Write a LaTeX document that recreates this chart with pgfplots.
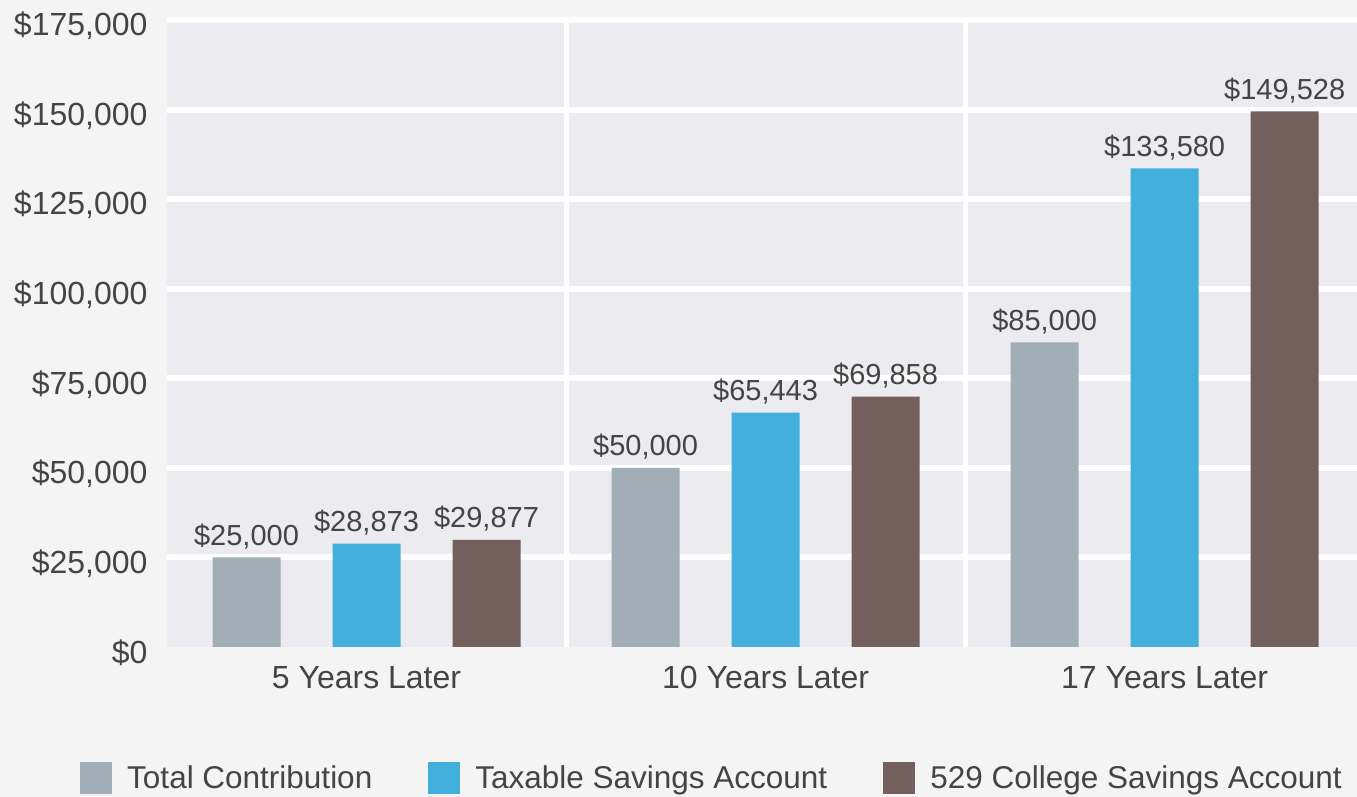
\documentclass[border=0pt]{standalone}
\usepackage{pgfplots}
\pgfplotsset{compat=1.18}
\usepackage{fontspec}
\setmainfont{Liberation Sans}
\definecolor{bg}{HTML}{F4F4F4}
\definecolor{plotbg}{HTML}{EBEBF0}
\definecolor{c1}{HTML}{A2AEB7}
\definecolor{c2}{HTML}{43AFDC}
\definecolor{c3}{HTML}{735F5C}
\definecolor{txt}{HTML}{444444}
\begin{document}
\begin{tikzpicture}
\fill[bg] (0pt,0pt) rectangle (1357pt,797pt);
\begin{axis}[
  at={(167pt,150pt)}, anchor=south west,
  scale only axis, width=1190pt, height=627pt,
  xmin=-0.5, xmax=2.482, ymin=0, ymax=175000,
  clip=false,
  scaled y ticks=false,
  axis background/.style={fill=plotbg},
  axis line style={draw=none},
  major tick length=0pt, minor tick length=0pt,
  xtick={0,1,2},
  xticklabels={5 Years Later,10 Years Later,17 Years Later},
  minor xtick={0.5,1.5},
  xminorgrids=true,
  minor x grid style={white, line width=5pt},
  ytick={25000,50000,75000,100000,125000,150000,175000},
  yticklabels={{\$25,000},{\$50,000},{\$75,000},{\$100,000},{\$125,000},{\$150,000},{\$175,000}},
  extra y ticks={0}, extra y tick labels={\$0},
  extra y tick style={grid=none},
  ymajorgrids=true,
  major grid style={white, line width=6pt},
  tick label style={font=\fontsize{32}{32}\selectfont, text=txt},
  yticklabel style={xshift=-16pt, yshift=-6pt},
  xticklabel style={yshift=-16pt},
  ybar=52pt, bar width=68pt,
  nodes near coords={\$\pgfmathprintnumber[fixed,precision=0,1000 sep={,},assume math mode=true]{\pgfplotspointmeta}},
  every node near coord/.append style={font=\fontsize{29}{29}\selectfont, text=txt, yshift=5pt},
  legend columns=3,
  legend style={at={(rel axis cs:-0.0731,-0.2089)}, anchor=west, draw=none, fill=none,
    font=\fontsize{31.5}{31.5}\selectfont, text=txt, inner sep=0pt,
    /tikz/every odd column/.append style={column sep=13pt},
    /tikz/every even column/.append style={column sep=54pt}},
  legend image code/.code={\fill[#1] (0pt,-16pt) rectangle (32pt,16pt);},
]
\addplot[fill=c1, draw=none] coordinates {(0,25000) (1,50000) (2,85000)};
\addplot[fill=c2, draw=none] coordinates {(0,28873) (1,65443) (2,133580)};
\addplot[fill=c3, draw=none] coordinates {(0,29877) (1,69858) (2,149528)};
\legend{Total Contribution, Taxable Savings Account, 529 College Savings Account}
\end{axis}
\pgfresetboundingbox
\useasboundingbox (0pt,0pt) rectangle (1357pt,797pt);
\end{tikzpicture}
\end{document}
